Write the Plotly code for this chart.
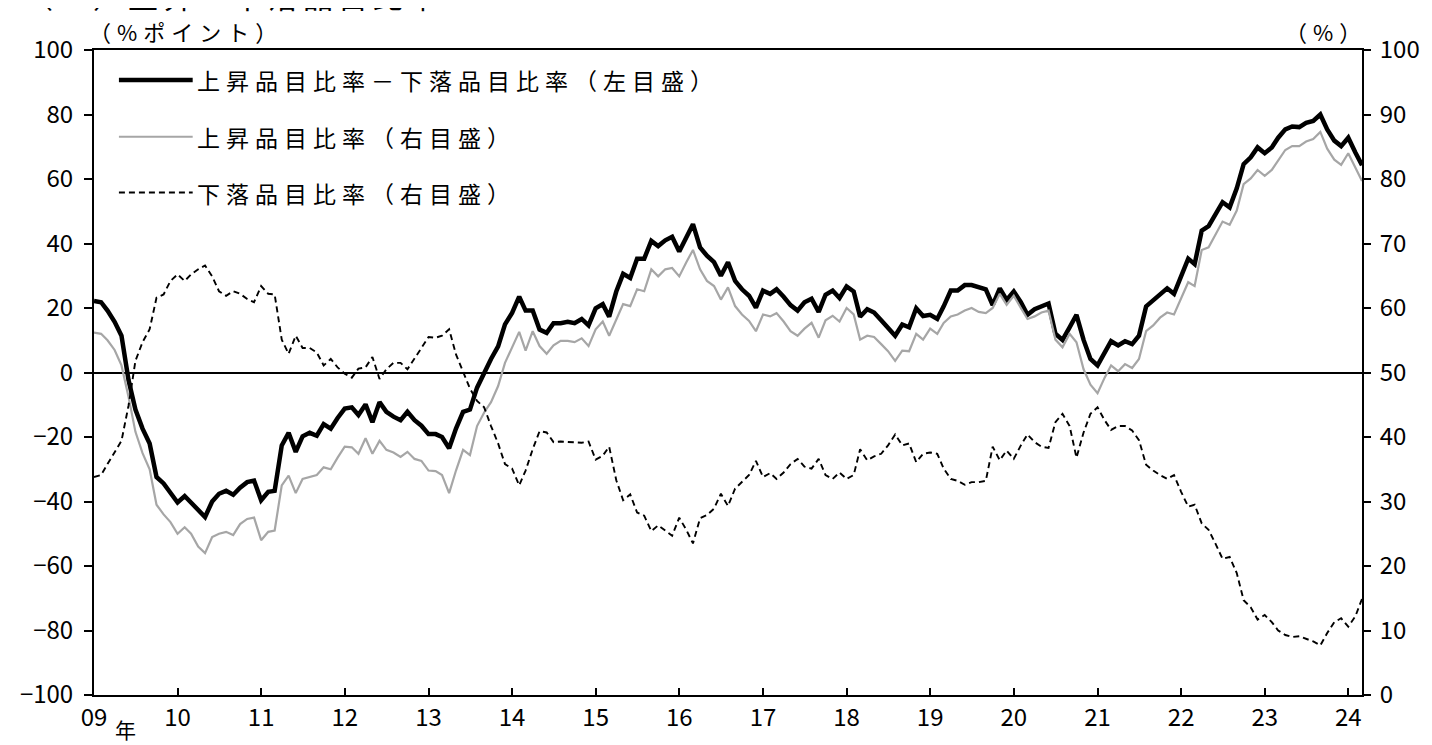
import pandas as pd
import plotly.graph_objects as go

# ---- data (monthly, Jan 2009 - Mar 2024) ----
months = pd.date_range("2009-01-01", periods=183, freq="MS")

# 上昇品目比率－下落品目比率 (%ポイント, left axis)
diff_pt = [
    22.2, 21.8, 19.2, 15.7, 11.4, -2.4, -11.5, -17.4, -22.0, -32.4, -34.4, -37.6,
    -40.3, -38.3, -40.3, -43.0, -44.8, -40.0, -37.6, -36.7, -37.9, -35.7, -34.0, -33.5,
    -39.6, -37.0, -36.7, -22.6, -18.7, -24.6, -19.8, -18.7, -19.6, -16.0, -17.4, -14.1,
    -11.2, -10.8, -13.2, -9.9, -15.4, -9.2, -12.2, -13.7, -14.8, -12.2, -14.8, -16.5,
    -19.1, -19.1, -20.0, -23.5, -17.4, -12.2, -11.5, -4.7, 0.0, 4.2, 8.1, 14.9,
    18.5, 23.5, 19.2, 19.2, 13.3, 12.3, 15.3, 15.3, 15.7, 15.3, 16.6, 14.6,
    19.9, 21.2, 17.3, 25.1, 30.6, 29.3, 35.3, 35.3, 40.8, 39.2, 41.0, 42.1,
    37.5, 42.1, 46.0, 38.8, 36.2, 34.2, 30.0, 34.2, 28.4, 25.8, 23.8, 20.1,
    25.4, 24.4, 25.8, 23.5, 20.9, 19.2, 21.8, 22.9, 18.8, 24.1, 25.4, 23.1,
    26.7, 25.1, 17.3, 19.6, 18.6, 16.2, 13.6, 11.4, 14.9, 14.0, 19.9, 17.5,
    17.9, 16.6, 20.5, 25.4, 25.4, 27.1, 27.1, 26.4, 25.8, 20.9, 26.1, 22.5,
    25.1, 21.8, 17.9, 19.6, 20.5, 21.4, 12.0, 10.1, 14.0, 17.9, 10.1, 4.2,
    2.2, 6.1, 9.7, 8.4, 9.7, 8.8, 11.4, 20.5, 22.5, 24.4, 26.1, 24.4,
    30.3, 35.3, 33.6, 44.0, 45.4, 49.3, 52.8, 51.2, 57.1, 64.6, 66.7, 69.8,
    68.0, 69.8, 72.8, 75.4, 76.3, 76.1, 77.4, 78.0, 80.0, 75.4, 71.9, 70.2,
    72.8, 68.2, 64.3,
]

# 上昇品目比率 (%, right axis)
rise_pct = [
    56.2, 56.0, 55.0, 53.5, 51.1, 46.2, 40.8, 37.5, 35.0, 29.5, 28.0, 26.8,
    25.0, 26.0, 25.0, 23.0, 22.0, 24.5, 25.0, 25.3, 24.8, 26.5, 27.3, 27.5,
    24.0, 25.3, 25.5, 32.5, 34.0, 31.3, 33.5, 33.8, 34.1, 35.3, 35.0, 36.8,
    38.5, 38.4, 37.4, 39.8, 37.4, 39.4, 38.0, 37.6, 36.9, 37.7, 36.6, 36.3,
    34.8, 34.7, 34.1, 31.3, 34.8, 38.0, 37.2, 41.7, 43.8, 45.4, 47.9, 51.5,
    54.0, 56.3, 53.4, 56.4, 54.1, 52.9, 54.2, 54.9, 54.9, 54.7, 55.3, 54.1,
    56.7, 57.9, 55.7, 58.3, 60.6, 60.3, 62.9, 62.6, 66.0, 64.9, 66.0, 66.2,
    64.9, 67.1, 69.0, 66.0, 64.2, 63.4, 61.3, 63.2, 60.3, 59.0, 58.0, 56.4,
    59.0, 58.7, 59.2, 57.9, 56.4, 55.7, 56.8, 57.7, 55.4, 58.1, 58.8, 57.9,
    60.0, 59.0, 55.1, 55.7, 55.5, 54.4, 53.3, 51.8, 53.4, 53.3, 56.0, 55.1,
    56.8, 56.0, 57.7, 58.7, 59.0, 59.6, 60.0, 59.4, 59.2, 60.0, 62.2, 60.5,
    61.9, 60.0, 58.3, 58.7, 59.3, 59.6, 55.1, 53.9, 56.0, 54.7, 50.5, 48.1,
    46.8, 49.2, 51.1, 50.2, 51.3, 50.7, 52.1, 56.4, 57.3, 58.5, 59.3, 59.0,
    61.6, 64.0, 63.4, 69.0, 69.4, 71.4, 73.4, 72.9, 75.1, 79.2, 80.1, 81.4,
    80.5, 81.4, 82.8, 84.5, 85.1, 85.1, 85.8, 86.2, 87.3, 84.7, 83.0, 82.2,
    84.0, 81.9, 79.7,
]

# 下落品目比率 (%, right axis)
fall_pct = [
    33.8, 34.1, 35.8, 37.7, 39.4, 44.9, 51.8, 54.7, 56.7, 61.6, 62.1, 64.2,
    65.2, 64.2, 65.2, 66.0, 66.6, 64.9, 62.6, 61.9, 62.6, 62.2, 61.4, 60.9,
    63.4, 62.2, 62.1, 55.1, 52.9, 55.7, 53.8, 53.8, 53.1, 51.1, 52.1, 50.8,
    49.8, 49.2, 50.6, 50.8, 52.4, 49.0, 50.5, 51.5, 51.5, 50.5, 52.1, 53.8,
    55.5, 55.4, 55.7, 56.7, 52.8, 50.2, 47.5, 45.6, 44.6, 41.7, 39.0, 35.8,
    35.1, 32.5, 34.8, 38.1, 40.9, 40.7, 39.2, 39.3, 39.2, 39.1, 39.1, 39.3,
    36.5, 37.1, 38.5, 33.3, 30.2, 31.1, 28.3, 27.8, 25.4, 26.3, 25.5, 24.7,
    27.5, 25.6, 23.5, 27.4, 27.9, 28.9, 31.2, 29.3, 32.0, 33.0, 34.1, 36.3,
    33.8, 34.4, 33.5, 34.5, 35.8, 36.6, 35.4, 35.1, 36.6, 34.1, 33.5, 34.5,
    33.5, 34.1, 38.1, 36.4, 37.0, 37.4, 38.7, 40.4, 38.7, 39.0, 36.1, 37.4,
    37.6, 37.4, 35.1, 33.5, 33.2, 32.6, 33.0, 33.0, 33.2, 38.5, 36.4, 37.9,
    36.6, 38.7, 40.4, 39.2, 38.5, 38.3, 42.3, 43.6, 41.7, 36.8, 40.7, 43.6,
    44.6, 42.6, 41.1, 41.7, 41.7, 41.0, 39.5, 35.7, 34.8, 34.1, 33.5, 34.1,
    31.5, 29.2, 29.5, 26.6, 25.6, 23.4, 21.1, 21.4, 18.9, 14.7, 13.6, 11.7,
    12.4, 11.3, 10.0, 9.3, 9.0, 9.1, 8.7, 8.3, 7.7, 9.6, 11.3, 11.9,
    10.6, 12.2, 14.9,
]

year_ticks = [f"{y}-01-01" for y in range(2009, 2025)]
year_labels = ["09", "10", "11", "12", "13", "14", "15", "16", "17", "18",
               "19", "20", "21", "22", "23", "24"]

legend_labels = [
    "上昇品目比率－下落品目比率（左目盛）",
    "上昇品目比率（右目盛）",
    "下落品目比率（右目盛）",
]
title_text = "（２）上昇－下落品目比率"
left_unit = "（%ポイント）"
right_unit = "（%）"

FONT = "Noto Sans CJK JP"
GRAY = "#A6A6A6"

# ---- figure geometry (page body has an 8px default margin) ----
OFF = 8
W, H = 1432 - OFF, 745 - OFF
ML, MT = 93 - OFF, 50 - OFF
PW, PH = 1272, 647
MR, MB = W - ML - PW, H - MT - PH


def px_x(x):  # page pixel -> paper
    return (x - OFF - ML) / PW


def px_y(y):  # page pixel -> paper
    return (H - MB - (y - OFF)) / PH


fig = go.Figure()
fig.add_trace(go.Scatter(x=months, y=rise_pct, yaxis="y2", mode="lines",
                         line=dict(color=GRAY, width=2.2), name=legend_labels[1],
                         showlegend=False))
fig.add_trace(go.Scatter(x=months, y=fall_pct, yaxis="y2", mode="lines",
                         line=dict(color="black", width=1.9, dash="6px,4px"),
                         name=legend_labels[2], showlegend=False))
fig.add_trace(go.Scatter(x=months, y=diff_pt, yaxis="y", mode="lines",
                         line=dict(color="black", width=4.5), name=legend_labels[0],
                         showlegend=False))

fig.update_layout(
    width=W, height=H,
    margin=dict(l=ML, r=MR, t=MT, b=MB, pad=0),
    paper_bgcolor="white", plot_bgcolor="white",
    font=dict(family=FONT, color="black", size=24),
    xaxis=dict(
        type="date", range=["2009-01-01", "2024-03-01"],
        tickmode="array", tickvals=year_ticks, ticktext=year_labels,
        ticks="inside", ticklen=7, tickwidth=2, tickcolor="black",
        showline=True, linecolor="black", linewidth=2, mirror=True,
        showgrid=False, zeroline=False,
        tickfont=dict(family=FONT, size=24, color="black"),
        ticklabelstandoff=0,
    ),
    yaxis=dict(
        range=[-100, 100], tick0=0, dtick=20,
        ticks="outside", ticklen=8, tickwidth=2, tickcolor="black",
        showline=True, linecolor="black", linewidth=2,
        showgrid=False, zeroline=True, zerolinecolor="black", zerolinewidth=1.6,
        tickfont=dict(family=FONT, size=24, color="black"),
        ticklabelstandoff=6,
    ),
    yaxis2=dict(
        range=[0, 100], tick0=0, dtick=10, overlaying="y", side="right",
        ticks="outside", ticklen=7, tickwidth=2, tickcolor="black",
        showline=True, linecolor="black", linewidth=2,
        showgrid=False, zeroline=False,
        tickfont=dict(family=FONT, size=24, color="black"),
        ticklabelstandoff=4,
    ),
)

annotations = []
shapes = []

# manual legend
rows_y = [80, 137, 193]
styles = [dict(color="black", width=4.5),
          dict(color=GRAY, width=2.2),
          dict(color="black", width=1.9, dash="6px,4px")]
for lab, ry, st in zip(legend_labels, rows_y, styles):
    shapes.append(dict(type="line", xref="paper", yref="paper",
                       x0=px_x(118), x1=px_x(192), y0=px_y(ry), y1=px_y(ry),
                       line=st))
    annotations.append(dict(xref="paper", yref="paper", x=px_x(194), y=px_y(ry),
                            xanchor="left", yanchor="middle", showarrow=False,
                            text=f'<span style="letter-spacing:6px">{lab}</span>',
                            font=dict(family=FONT, size=23, color="black")))

# unit labels
annotations.append(dict(xref="paper", yref="paper", x=px_x(86), y=px_y(31),
                        xanchor="left", yanchor="middle", showarrow=False,
                        text=f'<span style="letter-spacing:6px">{left_unit}</span>',
                        font=dict(family=FONT, size=22, color="black")))
annotations.append(dict(xref="paper", yref="paper", x=px_x(1372), y=px_y(31),
                        xanchor="right", yanchor="middle", showarrow=False,
                        text=f'<span style="letter-spacing:6px">{right_unit}</span>',
                        font=dict(family=FONT, size=22, color="black")))
# 年 suffix
annotations.append(dict(xref="paper", yref="paper", x=px_x(125), y=px_y(731),
                        xanchor="center", yanchor="middle", showarrow=False,
                        text="年", font=dict(family=FONT, size=21, color="black")))
# title (cut off at the top edge in the reference)
annotations.append(dict(xref="paper", yref="paper", x=px_x(20), y=px_y(-5),
                        xanchor="left", yanchor="middle", showarrow=False,
                        text=f'<span style="letter-spacing:5px">{title_text}</span>',
                        font=dict(family=FONT, size=30, color="black")))

fig.update_layout(annotations=annotations, shapes=shapes)
fig.write_html("out.html")
